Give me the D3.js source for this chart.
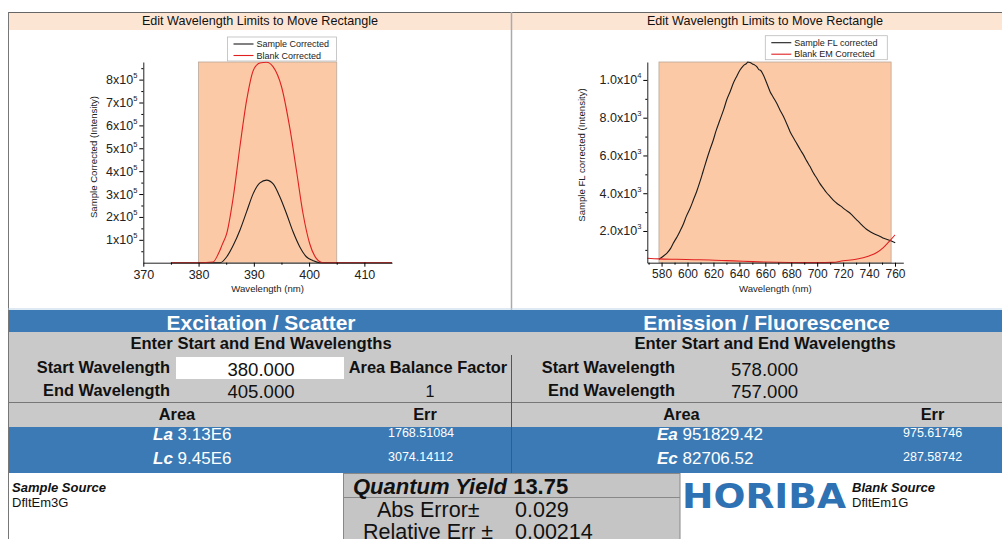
<!DOCTYPE html>
<html>
<head>
<meta charset="utf-8">
<script src="https://cdn.jsdelivr.net/npm/d3@7"></script>
<style>
  body { margin: 0; background: #fff; }
  svg { display: block; font-family: "Liberation Sans", Arial, sans-serif; }
</style>
</head>
<body>
<svg id="chart" width="1002" height="539"></svg>
<script>
/* Data */
// Excitation / scatter panel
const excWavelength = [375, 380, 382.6, 383.6, 384.3, 385.1, 386.3, 387.5, 388.7, 389.9, 391.1, 392.3, 393.5, 395, 396.5, 397.7, 398.9, 400.1, 401.3, 402.5, 405, 415];
const excBlank      = [0, 0, 3000, 40000, 80000, 128000, 290000, 510000, 710000, 840000, 873000, 876000, 856000, 770000, 590000, 405000, 215000, 84000, 19000, 0, 0, 0];
const excSampleWl   = [375, 380, 383.9, 385.1, 386.3, 387.5, 388.7, 389.9, 391.1, 392.3, 393.5, 394.7, 395.9, 397.1, 398.3, 399.5, 400.7, 401.9, 405, 415];
const excSample     = [0, 0, 0, 26000, 77000, 143000, 223000, 303000, 349000, 361000, 344000, 288000, 215000, 135000, 70000, 26000, 9000, 0, 0, 0];

// Emission / fluorescence panel
const emSampleWl = [578, 581, 584, 587, 589, 592, 594, 597, 599, 602, 604.5, 607, 609.6, 612, 614.7, 617, 619.9, 622, 625, 628, 630.2, 633, 635.3, 638, 640.5, 643, 645.6, 646.5, 648.2, 650, 651.5, 653.4, 655, 656.5, 658.5, 661, 663.7, 666, 668.8, 671, 674, 677, 679.1, 682, 684.2, 687, 689.4, 692, 694.5, 697, 699.7, 702, 704.8, 707, 710, 713, 715.1, 718, 720.3, 723, 725.4, 728, 730.6, 733, 735.7, 738, 740.9, 743, 746, 749, 751.2, 754, 756.3, 758, 760.2];
const emSample   = [500, 650, 820, 1080, 1350, 1700, 1965, 2400, 2760, 3200, 3640, 4080, 4610, 5150, 5760, 6250, 6820, 7300, 7880, 8450, 8940, 9400, 9820, 10200, 10530, 10750, 10880, 10950, 10920, 10850, 10800, 10710, 10550, 10500, 10260, 9850, 9380, 9100, 8760, 8450, 8060, 7600, 7260, 6900, 6640, 6300, 6030, 5700, 5410, 5080, 4790, 4520, 4260, 4050, 3820, 3600, 3470, 3330, 3200, 3060, 2940, 2760, 2580, 2420, 2230, 2090, 1960, 1880, 1790, 1700, 1610, 1550, 1490, 1440, 1380];
const emBlankWl  = [569, 578, 591.6, 605, 617.3, 630, 643, 655, 668.8, 682, 694.5, 705, 712, 720, 730, 740, 746, 751, 756, 760];
const emBlank    = [552, 520, 500, 480, 464, 430, 393, 365, 340, 330, 322, 326, 335, 420, 500, 680, 860, 1120, 1480, 1790];

// Axis ticks
const excXTicks = [370, 380, 390, 400, 410];
const excYTicks = [100000, 200000, 300000, 400000, 500000, 600000, 700000, 800000];
const emXTicks = [580, 600, 620, 640, 660, 680, 700, 720, 740, 760];
const emYTicks = [2000, 4000, 6000, 8000, 10000];

// Highlighted integration windows
const excWindow = [380, 405];
const emWindow = [578, 757];

// Table texts
const excTitle = "Excitation / Scatter";
const emTitle = "Emission / Fluorescence";
const excLimits = ["380.000", "405.000"];
const emLimits = ["578.000", "757.000"];
const areaBalanceFactor = "1";
const excAreas = [["La", "3.13E6", "1768.51084"], ["Lc", "9.45E6", "3074.14112"]];
const emAreas = [["Ea", "951829.42", "975.61746"], ["Ec", "82706.52", "287.58742"]];
const quantumYield = "13.75";
const absError = "0.029";
const relError = "0.00214";

const blue = "#3b7ab4";
const svg = d3.select("#chart");

/* Frames and title bands */
svg.append("rect").attr("x", 8).attr("y", 12).attr("width", 994).attr("height", 18).attr("fill", "#fde5d4");
svg.append("line").attr("x1", 8).attr("x2", 1002).attr("y1", 12.5).attr("y2", 12.5).attr("stroke", "#666");
svg.append("line").attr("x1", 8.5).attr("x2", 8.5).attr("y1", 12).attr("y2", 539).attr("stroke", "#777");
svg.append("line").attr("x1", 511.5).attr("x2", 511.5).attr("y1", 12).attr("y2", 310).attr("stroke", "#aaa").attr("stroke-width", 1.5);
[[260, "Edit Wavelength Limits to Move Rectangle"], [765, "Edit Wavelength Limits to Move Rectangle"]].forEach(([cx, t]) => {
  svg.append("text").attr("x", cx).attr("y", 25).attr("text-anchor", "middle")
    .attr("font-size", 12.6).attr("fill", "#111").text(t);
});

function drawPanel(cfg) {
  const g = svg.append("g");
  const x = d3.scaleLinear().domain(cfg.xDomain).range(cfg.xRange);
  const y = d3.scaleLinear().domain(cfg.yDomain).range(cfg.yRange);

  // Orange window
  g.append("rect")
    .attr("x", x(cfg.window[0])).attr("y", cfg.yRange[1])
    .attr("width", x(cfg.window[1]) - x(cfg.window[0]))
    .attr("height", cfg.yRange[0] - cfg.yRange[1])
    .attr("fill", "#fbc9a6").attr("stroke", "#b9a899").attr("stroke-width", 0.8);

  // Curves
  cfg.series.forEach(s => {
    const line = d3.line().x(d => x(d[0])).y(d => y(d[1])).curve(d3.curveMonotoneX);
    g.append("path").datum(d3.zip(s.x, s.y))
      .attr("d", line).attr("fill", "none")
      .attr("stroke", s.color).attr("stroke-width", 1.1);
  });

  // X axis
  const xAxis = g.append("g").attr("transform", `translate(0,${cfg.yRange[0]})`)
    .call(d3.axisBottom(x).tickValues(cfg.xTicks).tickSize(4).tickSizeOuter(0).tickPadding(3));
  g.append("g").attr("transform", `translate(0,${cfg.yRange[0]})`)
    .call(d3.axisBottom(x).tickValues(cfg.xMinor).tickSize(2).tickSizeOuter(0).tickFormat(""))
    .select(".domain").remove();
  xAxis.selectAll("text").attr("font-size", cfg.xFont).attr("fill", "#222").attr("font-family", null);

  // Y axis
  g.append("g").attr("transform", `translate(${cfg.xRange[0]},0)`)
    .call(d3.axisLeft(y).tickValues(cfg.yTicks).tickSize(4).tickSizeOuter(0).tickFormat(""));
  g.append("g").attr("transform", `translate(${cfg.xRange[0]},0)`)
    .call(d3.axisLeft(y).tickValues(cfg.yMinor).tickSize(2).tickSizeOuter(0).tickFormat(""))
    .select(".domain").remove();
  cfg.yTicks.forEach(v => {
    const [m, e] = cfg.yFormat(v);
    const t = g.append("text").attr("x", cfg.xRange[0] - 6).attr("y", y(v) + 4.5)
      .attr("text-anchor", "end").attr("font-size", 12.5).attr("fill", "#222");
    t.append("tspan").text(m + "x10");
    t.append("tspan").attr("font-size", 7.5).attr("dy", -6).text(e);
  });
  svg.selectAll(".domain").attr("stroke", "#222");

  // Axis titles
  g.append("text").attr("x", (cfg.xRange[0] + cfg.xRange[1]) / 2 + cfg.xLabelShift).attr("y", 292)
    .attr("text-anchor", "middle").attr("font-size", 9.6).attr("fill", "#222").text("Wavelength (nm)");
  g.append("text").attr("transform", `translate(${cfg.yLabelX},${cfg.yLabelY}) rotate(-90)`)
    .attr("text-anchor", "middle").attr("font-size", 9.6).attr("fill", "#222").text(cfg.yLabel);

  // Legend
  const lg = cfg.legend;
  g.append("rect").attr("x", lg.x).attr("y", lg.y).attr("width", lg.w).attr("height", 24)
    .attr("fill", "#fff").attr("stroke", "#bbb").attr("stroke-width", 0.8);
  cfg.series.forEach((s, i) => {
    const yy = lg.y + 7 + i * 11.5;
    g.append("line").attr("x1", lg.x + 6).attr("x2", lg.x + 26).attr("y1", yy).attr("y2", yy)
      .attr("stroke", s.color).attr("stroke-width", 1.1);
    g.append("text").attr("x", lg.x + 29).attr("y", yy + 3).attr("font-size", 9).attr("fill", "#222").text(s.name);
  });
}

drawPanel({
  xDomain: [370, 415], xRange: [143.3, 392],
  yDomain: [0, 877000], yRange: [262.7, 62],
  xTicks: excXTicks, xMinor: [375, 385, 395, 405],
  yTicks: excYTicks, yMinor: d3.range(50000, 877000, 100000),
  yFormat: v => [String(v / 100000), "5"],
  xFont: 12.5, xLabelShift: 0,
  window: excWindow,
  series: [
    { name: "Sample Corrected", x: excSampleWl, y: excSample, color: "#1a1a1a" },
    { name: "Blank Corrected", x: excWavelength, y: excBlank, color: "#e02020" }
  ],
  yLabel: "Sample Corrected (Intensity)", yLabelX: 96.5, yLabelY: 157,
  legend: { x: 227.5, y: 37, w: 109 }
});

drawPanel({
  xDomain: [569, 766.4], xRange: [647.3, 903.3],
  yDomain: [320, 10950], yRange: [262.7, 62],
  xTicks: emXTicks, xMinor: d3.range(570, 770, 20),
  yTicks: emYTicks, yMinor: [1000, 3000, 5000, 7000, 9000],
  yFormat: v => v >= 10000 ? [(v / 10000).toFixed(1), "4"] : [(v / 1000).toFixed(1), "3"],
  xFont: 12, xLabelShift: 0,
  window: emWindow,
  series: [
    { name: "Sample FL corrected", x: emSampleWl, y: emSample, color: "#1a1a1a" },
    { name: "Blank EM Corrected", x: emBlankWl, y: emBlank, color: "#e02020" }
  ],
  yLabel: "Sample FL corrected (Intensity)", yLabelX: 585, yLabelY: 155,
  legend: { x: 765.3, y: 35.7, w: 122 }
});

/* Results table */
svg.append("line").attr("x1", 8).attr("x2", 1002).attr("y1", 309).attr("y2", 309).attr("stroke", "#bcd3e8");
svg.append("rect").attr("x", 9).attr("y", 310).attr("width", 993).attr("height", 22).attr("fill", blue);
svg.append("rect").attr("x", 9).attr("y", 332).attr("width", 993).attr("height", 95).attr("fill", "#c9c9c9");
svg.append("rect").attr("x", 9).attr("y", 427).attr("width", 993).attr("height", 46).attr("fill", blue);
svg.append("line").attr("x1", 9).attr("x2", 1002).attr("y1", 402.5).attr("y2", 402.5).attr("stroke", "#777");
svg.append("line").attr("x1", 511.5).attr("x2", 511.5).attr("y1", 355).attr("y2", 473).attr("stroke", "#555");

function txt(x, y, s, size, opts = {}) {
  return svg.append("text").attr("x", x).attr("y", y).attr("font-size", size)
    .attr("text-anchor", opts.anchor || "start")
    .attr("font-weight", opts.bold ? "bold" : null)
    .attr("font-style", opts.italic ? "italic" : null)
    .attr("fill", opts.color || "#111").text(s);
}

txt(261, 329.5, excTitle, 21, { anchor: "middle", bold: true, color: "#fff" });
txt(766.5, 329.5, emTitle, 21, { anchor: "middle", bold: true, color: "#fff" });
txt(261, 348.5, "Enter Start and End Wavelengths", 16.6, { anchor: "middle", bold: true });
txt(765, 348.5, "Enter Start and End Wavelengths", 16.6, { anchor: "middle", bold: true });

// Wavelength limits
svg.append("rect").attr("x", 176).attr("y", 357).attr("width", 168).attr("height", 22).attr("fill", "#fff");
txt(170, 373, "Start Wavelength", 16.4, { anchor: "end", bold: true });
txt(170, 395.5, "End Wavelength", 16.4, { anchor: "end", bold: true });
txt(261, 376, excLimits[0], 18.6, { anchor: "middle" });
txt(261, 398, excLimits[1], 18.6, { anchor: "middle" });
txt(428, 373, "Area Balance Factor", 16.4, { anchor: "middle", bold: true });
txt(430, 397, areaBalanceFactor, 16, { anchor: "middle" });
txt(675, 373, "Start Wavelength", 16.4, { anchor: "end", bold: true });
txt(675, 395.5, "End Wavelength", 16.4, { anchor: "end", bold: true });
txt(764.5, 376, emLimits[0], 18.6, { anchor: "middle" });
txt(764.5, 398, emLimits[1], 18.6, { anchor: "middle" });

// Area / Err headings
txt(177, 420, "Area", 16.4, { anchor: "middle", bold: true });
txt(425, 420, "Err", 16.4, { anchor: "middle", bold: true });
txt(681.5, 420, "Area", 16.4, { anchor: "middle", bold: true });
txt(932.5, 420, "Err", 16.4, { anchor: "middle", bold: true });

function areaRows(rows, xName, xErr) {
  rows.forEach((r, i) => {
    const yy = 440 + i * 24;
    const t = txt(xName, yy, "", 17, { color: "#fff" });
    t.append("tspan").attr("font-weight", "bold").attr("font-style", "italic").text(r[0] + " ");
    t.append("tspan").text(r[1]);
    txt(xErr, yy - 3, r[2], 12.5, { color: "#fff" });
  });
}
areaRows(excAreas, 153, 388);
areaRows(emAreas, 657, 903);

/* Bottom: sources, quantum yield, logo */
txt(12, 492, "Sample Source", 13, { bold: true, italic: true });
txt(12, 507, "DfltEm3G", 13);
txt(852, 492, "Blank Source", 13, { bold: true, italic: true });
txt(852, 507, "DfltEm1G", 13);

svg.append("rect").attr("x", 343.5).attr("y", 473.5).attr("width", 336.5).attr("height", 70)
  .attr("fill", "#c5c5c5").attr("stroke", "#888");
svg.append("line").attr("x1", 344).attr("x2", 680).attr("y1", 497.5).attr("y2", 497.5).attr("stroke", "#888");
const qy = txt(353, 494, "", 22, {});
qy.append("tspan").attr("font-weight", "bold").attr("font-style", "italic").text("Quantum Yield ");
qy.append("tspan").attr("font-weight", "bold").text(quantumYield);
txt(377, 517, "Abs Error\u00b1", 21.5);
txt(515, 517, absError, 21.5);
txt(363, 539, "Relative Err \u00b1", 21.5);
txt(515, 539, relError, 21.5);

txt(682, 508, "HORIBA", 33, { bold: true, color: "#2f72b3" })
  .attr("font-family", "'DejaVu Sans', sans-serif")
  .attr("textLength", 164).attr("lengthAdjust", "spacingAndGlyphs");
</script>
</body>
</html>
